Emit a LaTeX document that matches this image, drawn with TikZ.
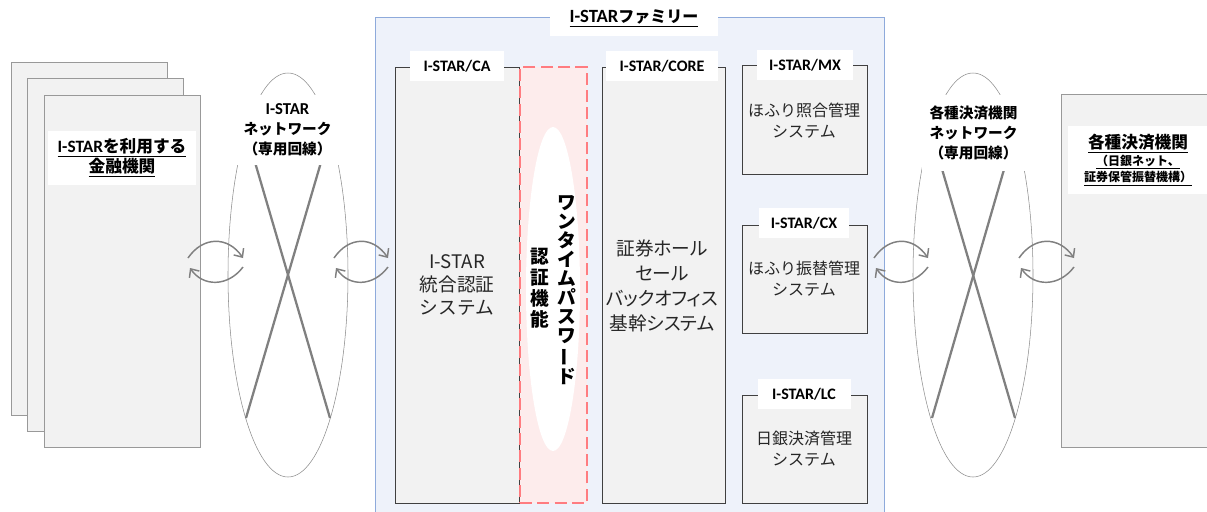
\documentclass[tikz,border=0pt]{standalone}
\usepackage{fontspec}
\setmainfont{Noto Sans CJK JP}
\newfontfamily\latn{Carlito}
\usetikzlibrary{arrows.meta,positioning,shapes.geometric}
\definecolor{famblue}{RGB}{238,242,250}
\definecolor{famedge}{RGB}{142,170,219}
\definecolor{boxgray}{RGB}{242,242,242}
\definecolor{linegray}{RGB}{128,128,128}
\definecolor{otpred}{RGB}{255,124,128}
\definecolor{otppink}{RGB}{253,236,236}
\newcommand\pxu{0.75pt}
\newcommand\istar{{\latn I-STAR}}

\tikzset{
	pagebox/.style={draw=linegray!80, fill=boxgray, inner sep=0pt},
	sysbox/.style={draw=black!75, fill=boxgray, inner sep=0pt},
	tagbox/.style={fill=white, inner sep=0pt, minimum height=30*\pxu, font=\latn\bfseries\fontsize{12}{14}\selectfont},
	netring/.style={ellipse, draw=black!45, fill=white, inner sep=0pt, minimum width=120*\pxu, minimum height=404*\pxu},
	netlabel/.style={fill=white, inner sep=0pt, align=center, font=\bfseries\fontsize{11}{15}\selectfont},
	crossline/.style={draw=linegray, line width=1.7pt},
	swaparrow/.style={draw=linegray, line width=1.1pt, -{Straight Barb[length=5pt,width=9pt]}},
	bigtext/.style={align=center, text=black!85, font=\fontsize{14}{17.5}\selectfont},
	smalltext/.style={align=center, text=black!85, font=\fontsize{12}{15.75}\selectfont},
}

\begin{document}
\begin{tikzpicture}[x=0.75pt,y=-0.75pt]
	\useasboundingbox (0,0) rectangle (1207,511);
	\clip (0,0) rectangle (1207,511);
	
	% banks using I-STAR
	\node[pagebox, minimum width=156*\pxu, minimum height=353*\pxu] (bank3) at (89,238.5) {};
	\node[pagebox, minimum width=156*\pxu, minimum height=353*\pxu] (bank2) at (105,254.5) {};
	\node[pagebox, minimum width=156*\pxu, minimum height=352*\pxu] (bank1) at (122,271) {};
	\node[fill=white, inner sep=0pt, align=center, minimum width=148*\pxu, minimum height=54*\pxu, font=\bfseries\fontsize{12.5}{15}\selectfont] (banklbl) at (122,158) {\underline{{\latn\fontsize{13}{15}\selectfont I-STAR}を利用する}\\\underline{金融機関}};
	
	% I-STAR network
	\node[netring] (lnet) at (288,275) {};
	\draw[crossline] ([shift={(-42,143)}]lnet.center) -- ([shift={(41,-140)}]lnet.center);
	\draw[crossline] ([shift={(42,143)}]lnet.center) -- ([shift={(-41,-140)}]lnet.center);
	\node[netlabel, minimum width=109*\pxu, minimum height=70*\pxu] (lnetlbl) at (287.5,130) {{\latn\fontsize{12.5}{15}\selectfont I-STAR}\\ネットワーク\\（専用回線）};
	
	% I-STAR family
	\node[fill=famblue, draw=famedge, inner sep=0pt, anchor=north west, minimum width=509*\pxu, minimum height=520*\pxu] (family) at (375,17) {};
	\node[fill=white, inner sep=0pt, minimum width=168*\pxu, minimum height=35*\pxu, font=\bfseries\fontsize{12}{14}\selectfont] (famlbl) at (634,18) {\underline{{\latn\fontsize{14}{16}\selectfont I-STAR}ファミリー}};
	
	\node[sysbox, minimum width=124*\pxu, minimum height=436*\pxu] (ca) at (457,285) {};
	\node[fill=otppink, draw=otpred, line width=1.5pt, dash pattern=on 9pt off 4pt, inner sep=0pt, minimum width=67*\pxu, minimum height=436*\pxu] (otp) at (553.5,285) {};
	\node[sysbox, minimum width=123*\pxu, minimum height=436*\pxu] (core) at (663.5,285) {};
	\node[sysbox, minimum width=125*\pxu, minimum height=109*\pxu] (mx) at (804.5,119.5) {};
	\node[sysbox, minimum width=125*\pxu, minimum height=108*\pxu] (cx) at (804.5,279) {};
	\node[sysbox, minimum width=125*\pxu, minimum height=108*\pxu] (lc) at (804.5,449) {};
	
	\node[tagbox, minimum width=94*\pxu] (catag) at (457,66) {I-STAR/CA};
	\node[tagbox, minimum width=112*\pxu] (coretag) at (662,66) {I-STAR/CORE};
	\node[tagbox, minimum width=96*\pxu] (mxtag) at (805,65) {I-STAR/MX};
	\node[tagbox, minimum width=90*\pxu] (cxtag) at (804,223) {I-STAR/CX};
	\node[tagbox, minimum width=93*\pxu] (lctag) at (804,394) {I-STAR/LC};
	
	\node[bigtext] (catxt) at (457,285) {I-STAR\\統合認証\\システム};
	\node[ellipse, fill=white, inner sep=0pt, minimum width=54*\pxu, minimum height=324*\pxu] (otpring) at (553,289) {};
	\node[align=center, inner sep=0pt, font=\bfseries\fontsize{14}{14.25}\selectfont] (otptxt) at (567,290) {ワ\\ン\\タ\\イ\\ム\\パ\\ス\\ワ\\\rotatebox[origin=c]{90}{ー}\\ド};
	\node[align=center, inner sep=0pt, font=\bfseries\fontsize{14}{15.75}\selectfont] (authtxt) at (540,288) {認\\証\\機\\能};
	\node[bigtext, font=\fontsize{14}{18.75}\selectfont\addfontfeatures{RawFeature=+palt}] (coretxt) at (662,285.5) {証券ホール\\セール\\バックオフィス\\基幹システム};
	\node[smalltext] (mxtxt) at (804,120.5) {ほふり照合管理\\システム};
	\node[smalltext] (cxtxt) at (804,278.5) {ほふり振替管理\\システム};
	\node[smalltext] (lctxt) at (804,448.5) {日銀決済管理\\システム};
	
	% settlement network
	\node[netring] (rnet) at (973,275) {};
	\draw[crossline] ([shift={(-41,143)}]rnet.center) -- ([shift={(41,-140)}]rnet.center);
	\draw[crossline] ([shift={(42,143)}]rnet.center) -- ([shift={(-41,-140)}]rnet.center);
	\node[netlabel, minimum width=103*\pxu, minimum height=76*\pxu] (rnetlbl) at (973.5,133) {各種決済機関\\ネットワーク\\（専用回線）};
	
	% settlement institutions
	\node[pagebox, anchor=north west, minimum width=200*\pxu, minimum height=353*\pxu] (settle) at (1061,94) {};
	\node[fill=white, inner sep=0pt, align=center, minimum width=140*\pxu, minimum height=68*\pxu, font=\bfseries\fontsize{9}{12.5}\selectfont] (settlelbl) at (1138,160) {{\fontsize{12.5}{15}\selectfont\underline{各種決済機関}}\\\underline{（日銀ネット、}\\\underline{証券保管振替機構）}};
	
	% exchange arrows
	\coordinate (l1) at (188,258); \coordinate (r1) at (243,258);
	\coordinate (l2) at (334,258); \coordinate (r2) at (388,258);
	\coordinate (l3) at (874,258); \coordinate (r3) at (928,258);
	\coordinate (l4) at (1019,258); \coordinate (r4) at (1074,258);
	\foreach \i in {1,...,4}{
		\draw[swaparrow] (l\i) .. controls +(15,-22) and +(-15,-22) .. (r\i);
		\draw[swaparrow] ([shift={(0,9)}]r\i) .. controls +(-15,20) and +(13,19) .. ([shift={(2,10)}]l\i);
	}
\end{tikzpicture}
\end{document}
